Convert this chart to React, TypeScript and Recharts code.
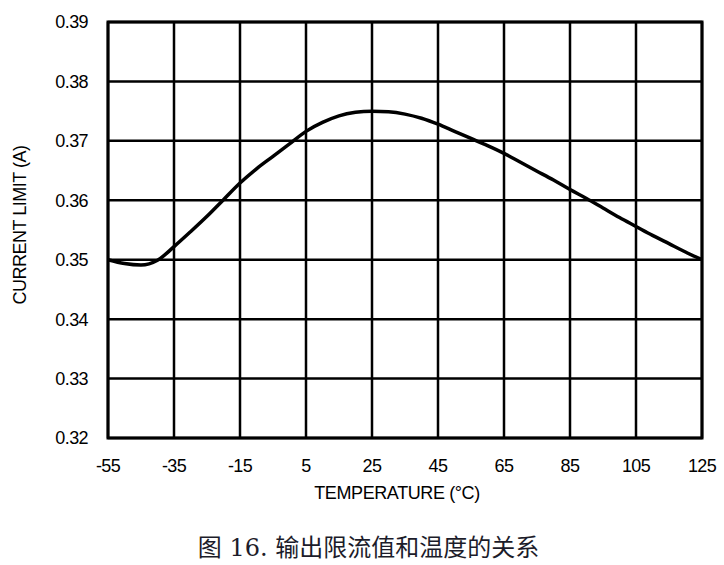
import React from 'react';
import { LineChart, Line, XAxis, YAxis, CartesianGrid, ReferenceArea } from 'recharts';

const temperatures = [-55, -50, -45, -40, -35, -30, -25, -20, -15, -10, -5, 0, 5, 10, 15, 20, 25, 30, 35, 40, 45, 50, 55, 60, 65, 70, 75, 80, 85, 90, 95, 100, 105, 110, 115, 120, 125];
const currentLimit = [0.3500, 0.34935, 0.3491, 0.3499, 0.3522, 0.3547, 0.3573, 0.3601, 0.3629, 0.3653, 0.3674, 0.3695, 0.3716, 0.3731, 0.3742, 0.3748, 0.3750, 0.3749, 0.3745, 0.3738, 0.3728, 0.3716, 0.3704, 0.3692, 0.3679, 0.3664, 0.3649, 0.3634, 0.3618, 0.3603, 0.3587, 0.3571, 0.3556, 0.3541, 0.3527, 0.3513, 0.3500];
const xTicks = [-55, -35, -15, 5, 25, 45, 65, 85, 105, 125];
const yTicks = [0.32, 0.33, 0.34, 0.35, 0.36, 0.37, 0.38, 0.39];
const xTitle = 'TEMPERATURE (°C)';
const yTitle = 'CURRENT LIMIT (A)';
const caption = '图 16. 输出限流值和温度的关系';

const data = temperatures.map((t, i) => ({ t, v: currentLimit[i] }));

const FONT = '"Liberation Sans", Arial, sans-serif';
const textStyle = { fill: '#000', fontSize: 18, fontFamily: FONT, letterSpacing: -0.6 };

const XTitle = () => (
  <text x={397} y={498.5} textAnchor="middle" style={{ ...textStyle, letterSpacing: -0.4 }}>{xTitle}</text>
);

const YTitle = () => (
  <text x={25.5} y={225} textAnchor="middle" transform="rotate(-90, 25.5, 225)" style={{ ...textStyle, letterSpacing: -0.5 }}>{yTitle}</text>
);

export default function App() {
  return (
    <div style={{ position: 'absolute', left: 0, top: 0, width: 724, height: 565, background: '#fff' }}>
      <LineChart width={724} height={510} data={data} margin={{ top: 22, right: 22, bottom: 0, left: 0 }}>
        <CartesianGrid stroke="#000" strokeWidth={2.5} horizontal vertical />
        <XAxis
          type="number"
          dataKey="t"
          domain={[-55, 125]}
          ticks={xTicks}
          interval={0}
          axisLine={false}
          tickLine={false}
          tickMargin={15}
          height={72}
          tick={textStyle}
          label={<XTitle />}
        />
        <YAxis
          type="number"
          domain={[0.32, 0.39]}
          ticks={yTicks}
          interval={0}
          axisLine={false}
          tickLine={false}
          tickMargin={14}
          width={108}
          tickFormatter={(v: number) => v.toFixed(2)}
          tick={textStyle}
          label={<YTitle />}
        />
        <ReferenceArea x1={-55} x2={125} y1={0.32} y2={0.39} fill="none" stroke="#000" strokeWidth={3} ifOverflow="visible" />
        <Line type="monotone" dataKey="v" stroke="#000" strokeWidth={3.5} dot={false} isAnimationActive={false} />
      </LineChart>
      <div style={{ position: 'absolute', left: 0, width: 737, top: 536, lineHeight: '24px', textAlign: 'center', fontFamily: '"DejaVu Serif", "Noto Sans CJK SC", serif', fontSize: 24, letterSpacing: 0, color: '#1c1c2a', whiteSpace: 'nowrap' }}>
        {caption}
      </div>
    </div>
  );
}
